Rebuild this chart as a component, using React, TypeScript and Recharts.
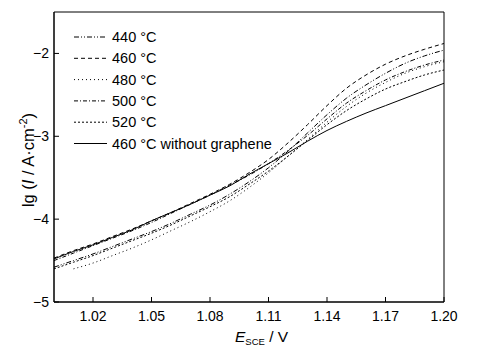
import React from "react";
import { LineChart, Line, XAxis, YAxis, ReferenceArea } from "recharts";

const potentials = [1.0, 1.01, 1.02, 1.03, 1.04, 1.05, 1.06, 1.07, 1.08, 1.09, 1.1, 1.11, 1.12, 1.13, 1.14, 1.15, 1.16, 1.17, 1.18, 1.19, 1.2];

const s440 = [-4.58, -4.5, -4.42, -4.33, -4.24, -4.15, -4.05, -3.94, -3.83, -3.7, -3.55, -3.38, -3.18, -2.96, -2.74, -2.54, -2.38, -2.24, -2.12, -2.03, -1.96];
const s460 = [-4.47, -4.38, -4.3, -4.21, -4.12, -4.02, -3.92, -3.81, -3.7, -3.58, -3.44, -3.28, -3.08, -2.86, -2.63, -2.42, -2.26, -2.13, -2.03, -1.95, -1.88];
const s480 = [null, -4.6, -4.53, -4.44, -4.35, -4.25, -4.14, -4.03, -3.91, -3.78, -3.62, -3.44, -3.24, -3.04, -2.83, -2.64, -2.48, -2.35, -2.24, -2.16, -2.1];
const s500 = [-4.5, -4.41, -4.32, -4.23, -4.14, -4.04, -3.93, -3.82, -3.71, -3.59, -3.47, -3.33, -3.17, -2.99, -2.79, -2.6, -2.45, -2.32, -2.22, -2.14, -2.08];
const s520 = [-4.6, -4.52, -4.44, -4.35, -4.26, -4.17, -4.07, -3.96, -3.85, -3.73, -3.58, -3.42, -3.24, -3.05, -2.86, -2.69, -2.55, -2.43, -2.34, -2.26, -2.2];
const sNoG = [-4.48, -4.39, -4.31, -4.22, -4.13, -4.02, -3.92, -3.82, -3.71, -3.6, -3.46, -3.33, -3.2, -3.06, -2.93, -2.82, -2.72, -2.63, -2.54, -2.45, -2.36];

const xTicks = [1.02, 1.05, 1.08, 1.11, 1.14, 1.17, 1.2];
const yTicks = [-5, -4, -3, -2];

const seriesNames = ["440 °C", "460 °C", "480 °C", "500 °C", "520 °C", "460 °C without graphene"];
const seriesKeys = ["s440", "s460", "s480", "s500", "s520", "sNoG"];
const seriesDash = ["5 2 1 2 1 2", "4 3", "1 3", "4 2 1 2", "2 2", ""];

const data = potentials.map((e, i) => ({
  E: e,
  s440: s440[i],
  s460: s460[i],
  s480: s480[i],
  s500: s500[i],
  s520: s520[i],
  sNoG: sNoG[i],
}));

const FONT = "'Liberation Sans', Arial, sans-serif";

const XTick = (props: any) => {
  const { x, y, payload } = props;
  return (
    <g>
      <line x1={x} y1={y} x2={x} y2={y - 5} stroke="#000" strokeWidth={1} />
      <text x={x} y={y + 19} textAnchor="middle" fontSize={14} fontFamily={FONT} fill="#000">
        {payload.value.toFixed(2)}
      </text>
    </g>
  );
};

const YTick = (props: any) => {
  const { x, y, payload } = props;
  return (
    <g>
      <line x1={x} y1={y} x2={x + 5} y2={y} stroke="#000" strokeWidth={1} />
      <text x={x - 5} y={y + 5} textAnchor="end" fontSize={14} fontFamily={FONT} fill="#000">
        {"\u2212" + String(Math.abs(payload.value))}
      </text>
    </g>
  );
};

const LegendBox = () => (
  <svg width={220} height={135} style={{ position: "absolute", left: 70, top: 29 }}>
    {seriesNames.map((n, i) => {
      const cy = 8 + i * 21.3;
      return (
        <g key={n}>
          <line x1={4} x2={37} y1={cy} y2={cy} stroke="#000" strokeWidth={1} strokeDasharray={seriesDash[i] || undefined} />
          <text x={42} y={cy + 5} fontSize={14.5} fontFamily={FONT} fill="#000">{n}</text>
        </g>
      );
    })}
  </svg>
);

export default function App() {
  return (
    <div style={{ position: "absolute", left: 0, top: 0, width: 491, height: 353, background: "#fff" }}>
      <LineChart width={491} height={353} data={data} margin={{ top: 12, right: 47, bottom: 0, left: 0 }}>
        <XAxis
          dataKey="E"
          type="number"
          domain={[1.0, 1.2]}
          ticks={xTicks}
          allowDataOverflow
          height={51}
          tickSize={0}
          tickMargin={0}
          tickLine={false}
          axisLine={{ stroke: "#000" }}
          tick={<XTick />}
          interval={0}
          label={() => (
            <text x={235} y={342} textAnchor="start" fontSize={15.5} fontFamily={FONT} fill="#000">
              <tspan fontStyle="italic">E</tspan>
              <tspan fontSize={9.5} dy={3}>SCE</tspan>
              <tspan dy={-3}> / V</tspan>
            </text>
          )}
        />
        <YAxis
          type="number"
          domain={[-5, -1.5]}
          ticks={yTicks}
          allowDataOverflow
          width={54}
          tickSize={0}
          tickMargin={0}
          tickLine={false}
          axisLine={{ stroke: "#000" }}
          tick={<YTick />}
          interval={0}
          label={() => (
            <text x={34} y={160} transform="rotate(-90, 34, 160)" textAnchor="middle" fontSize={16.5} fontFamily={FONT} fill="#000">
              <tspan>lg (</tspan>
              <tspan fontStyle="italic">I</tspan>
              <tspan> / A·cm</tspan>
              <tspan fontSize={11} dy={-7}>-2</tspan>
              <tspan dy={7}>)</tspan>
            </text>
          )}
        />
        <ReferenceArea x1={1.0} x2={1.2} y1={-5} y2={-1.5} fill="none" stroke="#000" strokeWidth={1} ifOverflow="visible" />
        {seriesKeys.map((k, i) => (
          <Line
            key={k}
            dataKey={k}
            name={seriesNames[i]}
            type="monotone"
            stroke="#000"
            strokeWidth={1}
            strokeDasharray={seriesDash[i] || undefined}
            dot={false}
            activeDot={false}
            isAnimationActive={false}
          />
        ))}
      </LineChart>
      <LegendBox />
    </div>
  );
}
